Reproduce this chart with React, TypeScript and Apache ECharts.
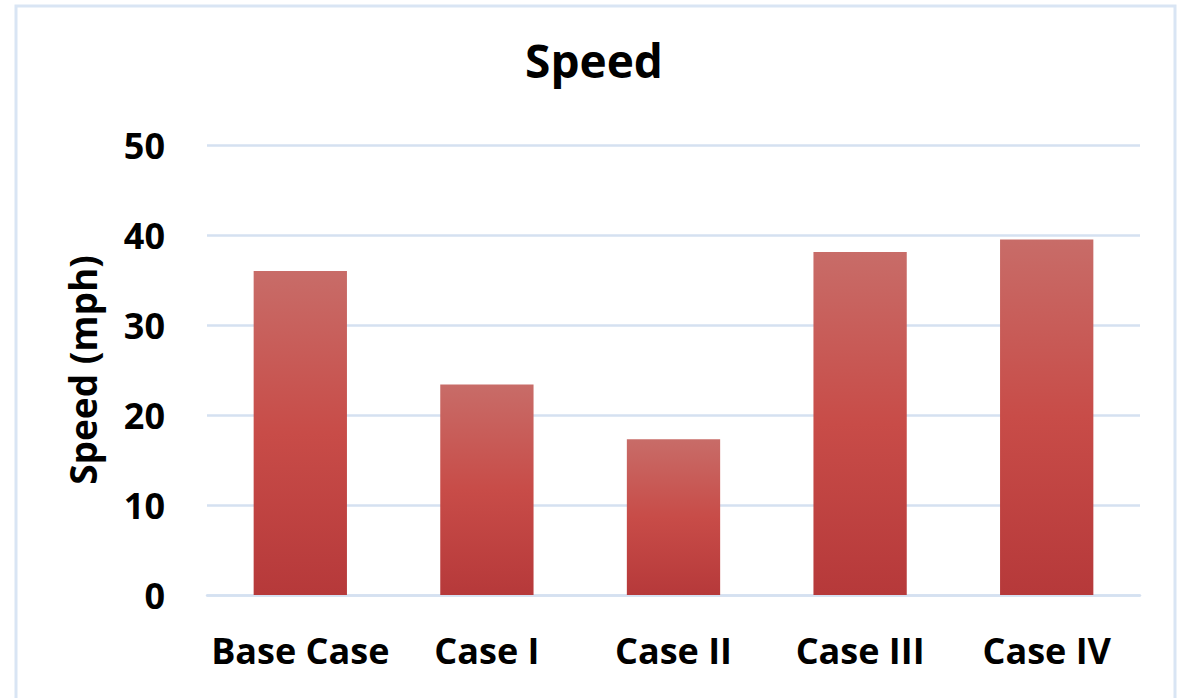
import React, { useEffect, useRef } from "react";
import * as echarts from "echarts";

const categories: string[] = ["Base Case", "Case I", "Case II", "Case III", "Case IV"];
const speedValues: number[] = [36.0, 23.4, 17.3, 38.1, 39.5];
const yTicks = { min: 0, max: 50, interval: 10 };

const FONT = "'Open Sans', 'Noto Sans', sans-serif";
const GRID_COLOR = "#d5e1f1";

export default function App() {
  const ref = useRef<HTMLDivElement>(null);

  useEffect(() => {
    document.body.style.margin = "0";
    const chart = echarts.init(ref.current!, null, { renderer: "svg" });
    chart.setOption({
      animation: false,
      backgroundColor: "#ffffff",
      title: {
        text: "Speed",
        left: "center",
        top: 32,
        textStyle: { fontFamily: FONT, fontWeight: "bold", fontSize: 46, color: "#000" },
      },
      graphic: [
        {
          type: "rect",
          shape: { x: 16, y: 6, width: 1159, height: 720 },
          style: { fill: "none", stroke: "#d9e5f4", lineWidth: 3 },
          silent: true,
        },
      ],
      grid: { left: 207, right: 48, top: 145, bottom: 103 },
      xAxis: {
        type: "category",
        data: categories,
        axisLine: { show: true, lineStyle: { color: GRID_COLOR, width: 2.5 } },
        axisTick: { show: false },
        axisLabel: {
          fontFamily: FONT,
          fontWeight: "bold",
          fontSize: 36,
          color: "#000",
          margin: 37,
          interval: 0,
        },
      },
      yAxis: {
        type: "value",
        min: yTicks.min,
        max: yTicks.max,
        interval: yTicks.interval,
        name: "Speed (mph)",
        nameLocation: "middle",
        nameGap: 106,
        nameTextStyle: { fontFamily: FONT, fontWeight: "bold", fontSize: 37, color: "#000" },
        axisLine: { show: false },
        axisTick: { show: false },
        axisLabel: {
          fontFamily: FONT,
          fontWeight: "bold",
          fontSize: 36,
          color: "#000",
          margin: 42,
        },
        splitLine: { show: true, lineStyle: { color: GRID_COLOR, width: 2.5 } },
      },
      series: [
        {
          type: "bar",
          data: speedValues,
          barWidth: "50%",
          itemStyle: {
            color: new echarts.graphic.LinearGradient(0, 0, 0, 1, [
              { offset: 0, color: "#c86c68" },
              { offset: 0.5, color: "#c84c48" },
              { offset: 1, color: "#b6393a" },
            ]),
          },
        },
      ],
    });
    return () => chart.dispose();
  }, []);

  return (
    <div
      ref={ref}
      style={{ position: "absolute", left: 0, top: 0, width: 1188, height: 698 }}
    />
  );
}
